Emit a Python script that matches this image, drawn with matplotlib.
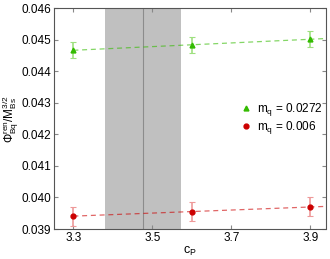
import matplotlib
matplotlib.use("Agg")
import matplotlib.pyplot as plt
import numpy as np

plt.rcParams['font.family'] = ['Liberation Sans', 'DejaVu Sans']
plt.rcParams['mathtext.fontset'] = 'custom'
plt.rcParams['mathtext.rm'] = 'Liberation Sans'
plt.rcParams['mathtext.it'] = 'Liberation Sans'
plt.rcParams['mathtext.sf'] = 'Liberation Sans'

# data
cp = np.array([3.3, 3.6, 3.9])
phi_heavy = np.array([0.04467, 0.04484, 0.04502])   # m_q = 0.0272
err_heavy = np.array([0.00025, 0.00026, 0.00025])
phi_light = np.array([0.03941, 0.03955, 0.03970])   # m_q = 0.006
err_light = np.array([0.00030, 0.00030, 0.00030])
labels = [r'$\mathrm{m_q}$ = 0.0272', r'$\mathrm{m_q}$ = 0.006']

band = (3.38, 3.572)
cp_phys = 3.477

fig = plt.figure(figsize=(3.3, 2.59), dpi=100)
ax = fig.add_axes([54/330, 1 - 229/259, (325.5 - 54)/330, (229 - 8.3)/259])

xmin, xmax = 3.251, 3.938
ax.axvspan(band[0], band[1], color='#c0c0c0', lw=0, zorder=0)
ax.axvline(cp_phys, color='#8c8c8c', lw=0.8, zorder=1)

series = [
    (phi_heavy, err_heavy, '#33bb00', '#9ee07f', '^', labels[0]),
    (phi_light, err_light, '#cc0000', '#ee9999', 'o', labels[1]),
]
xfit = np.linspace(cp[0], xmax, 50)
for y, e, c, ec, m, lab in series:
    k, b = np.polyfit(cp, y, 1)
    ax.plot(xfit, k * xfit + b, ls=(0, (4, 3)), color=c, alpha=0.6, lw=0.9, zorder=2)
    ax.errorbar(cp, y, yerr=e, fmt='none', ecolor=ec, elinewidth=1.2, capsize=2.5,
                capthick=0.8, zorder=3)
    ax.plot(cp, y, ls='none', marker=m, ms=3.5, color=c, label=lab, zorder=4)

ax.set_xlim(xmin, xmax)
ax.set_ylim(0.039, 0.046)
ax.set_xticks([3.3, 3.5, 3.7, 3.9])
ax.set_yticks(np.arange(0.039, 0.04601, 0.001))
ax.set_yticklabels(['%.3f' % v for v in np.arange(0.039, 0.04601, 0.001)])
ax.tick_params(direction='in', top=True, right=True, length=3, width=0.8,
               color='#888888', labelsize=8.5, pad=2)
for s in ax.spines.values():
    s.set_color('#555555')
    s.set_linewidth(0.8)

ax.set_xlabel(r'$\mathrm{c_P}$', fontsize=9, labelpad=1)
ax.set_ylabel(r'$\Phi^{\mathrm{ren}}_{\mathrm{Bq}}/\mathrm{M}^{3/2}_{\mathrm{Bs}}$', fontsize=8.5, labelpad=0.5)

ax.legend(loc='center left', bbox_to_anchor=(0.665, 0.50), frameon=False, fontsize=8.5,
          handlelength=1.0, handletextpad=0.4, labelspacing=0.12, borderpad=0)

fig.savefig('out.png', dpi=100)
